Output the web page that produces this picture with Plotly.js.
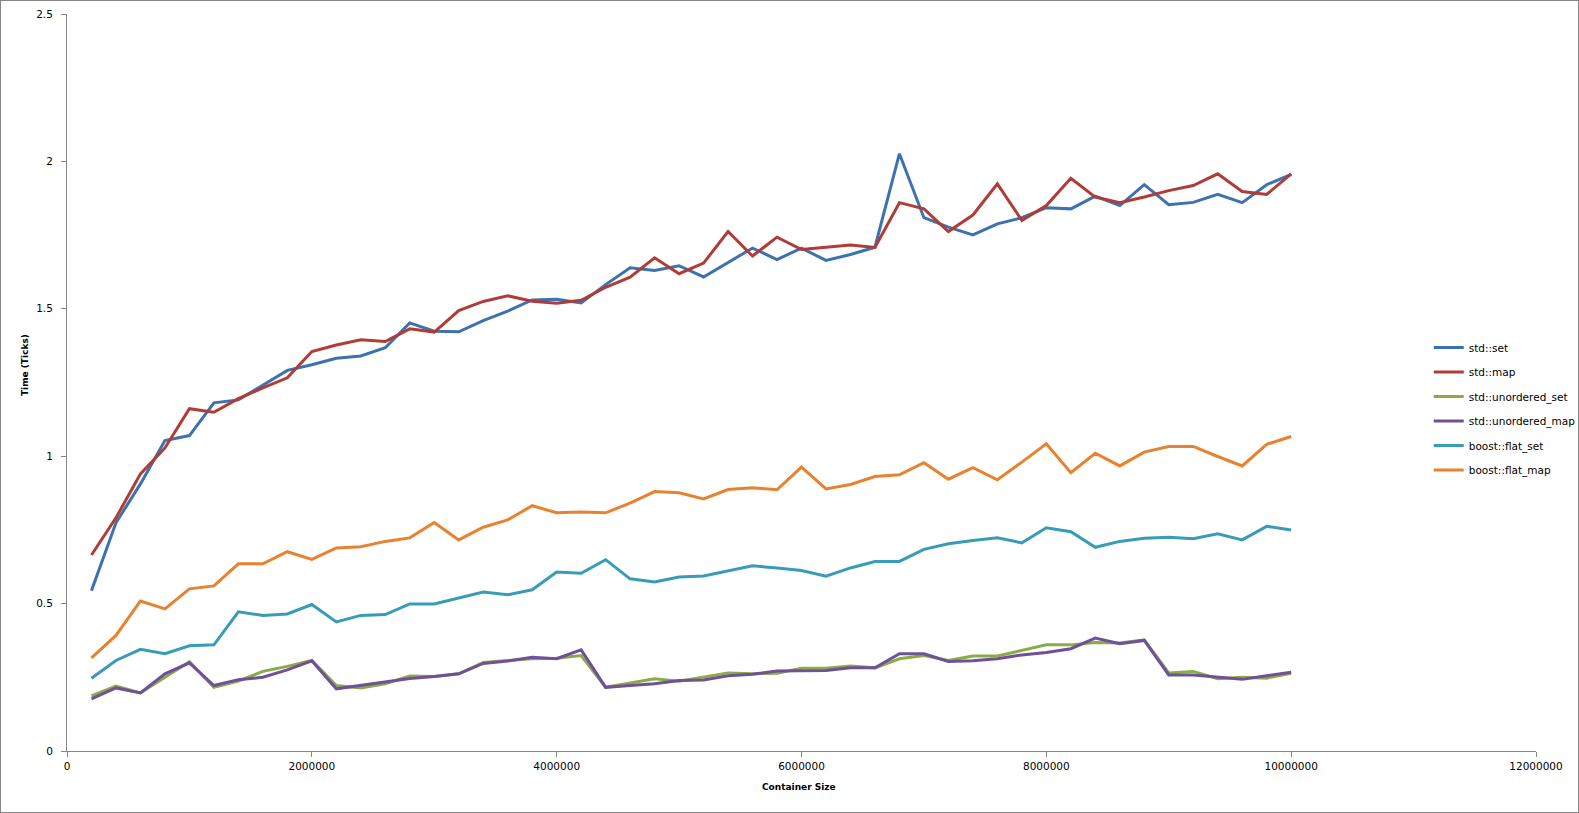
<!DOCTYPE html>
<html>
<head>
<meta charset="utf-8">
<script src="https://cdn.plot.ly/plotly-3.0.1.min.js"></script>
<style>
  html, body { margin: 0; padding: 0; background: #ffffff; }
  #chart { width: 1579px; height: 813px; box-sizing: border-box; border: 1px solid #868686; }
</style>
</head>
<body>
<div id="chart"></div>
<script>
// Container sizes (x values)
const containerSize = [
  200000, 400000, 600000, 800000, 1000000, 1200000, 1400000, 1600000, 1800000, 2000000,
  2200000, 2400000, 2600000, 2800000, 3000000, 3200000, 3400000, 3600000, 3800000, 4000000,
  4200000, 4400000, 4600000, 4800000, 5000000, 5200000, 5400000, 5600000, 5800000, 6000000,
  6200000, 6400000, 6600000, 6800000, 7000000, 7200000, 7400000, 7600000, 7800000, 8000000,
  8200000, 8400000, 8600000, 8800000, 9000000, 9200000, 9400000, 9600000, 9800000, 10000000
];

const stdSet = [
  0.544, 0.774, 0.906, 1.053, 1.070, 1.181, 1.191, 1.240, 1.291, 1.310,
  1.332, 1.340, 1.368, 1.452, 1.424, 1.422, 1.460, 1.492, 1.530, 1.532,
  1.520, 1.582, 1.639, 1.630, 1.646, 1.608, 1.656, 1.706, 1.667, 1.706,
  1.664, 1.684, 1.709, 2.026, 1.809, 1.777, 1.751, 1.788, 1.809, 1.843,
  1.839, 1.882, 1.850, 1.921, 1.853, 1.861, 1.888, 1.860, 1.921, 1.956
];

const stdMap = [
  0.665, 0.791, 0.940, 1.028, 1.161, 1.149, 1.195, 1.232, 1.266, 1.355,
  1.377, 1.395, 1.389, 1.432, 1.421, 1.494, 1.525, 1.544, 1.526, 1.519,
  1.529, 1.573, 1.607, 1.673, 1.619, 1.655, 1.762, 1.679, 1.743, 1.701,
  1.709, 1.716, 1.708, 1.860, 1.839, 1.762, 1.818, 1.924, 1.800, 1.850,
  1.943, 1.879, 1.860, 1.879, 1.901, 1.918, 1.958, 1.898, 1.888, 1.958
];

const stdUnorderedSet = [
  0.187, 0.220, 0.197, 0.250, 0.303, 0.216, 0.237, 0.270, 0.287, 0.307,
  0.222, 0.214, 0.228, 0.254, 0.253, 0.262, 0.300, 0.307, 0.313, 0.315,
  0.324, 0.216, 0.230, 0.245, 0.237, 0.250, 0.265, 0.262, 0.264, 0.281,
  0.281, 0.288, 0.282, 0.313, 0.324, 0.307, 0.322, 0.322, 0.341, 0.360,
  0.360, 0.368, 0.366, 0.377, 0.265, 0.270, 0.245, 0.250, 0.247, 0.264
];

const stdUnorderedMap = [
  0.177, 0.214, 0.197, 0.262, 0.299, 0.222, 0.242, 0.250, 0.275, 0.306,
  0.211, 0.222, 0.235, 0.246, 0.253, 0.262, 0.297, 0.305, 0.318, 0.313,
  0.343, 0.216, 0.222, 0.228, 0.239, 0.241, 0.255, 0.260, 0.271, 0.271,
  0.273, 0.282, 0.282, 0.330, 0.330, 0.304, 0.306, 0.313, 0.326, 0.334,
  0.347, 0.383, 0.364, 0.375, 0.258, 0.258, 0.250, 0.243, 0.255, 0.267
];

const boostFlatSet = [
  0.247, 0.307, 0.345, 0.330, 0.357, 0.360, 0.472, 0.460, 0.465, 0.497,
  0.438, 0.460, 0.463, 0.499, 0.499, 0.520, 0.539, 0.530, 0.547, 0.607,
  0.603, 0.649, 0.584, 0.573, 0.590, 0.594, 0.611, 0.628, 0.621, 0.612,
  0.593, 0.621, 0.643, 0.643, 0.684, 0.703, 0.714, 0.723, 0.706, 0.757,
  0.744, 0.691, 0.711, 0.722, 0.725, 0.720, 0.737, 0.716, 0.762, 0.750
];

const boostFlatMap = [
  0.316, 0.392, 0.509, 0.482, 0.550, 0.560, 0.635, 0.635, 0.676, 0.650,
  0.689, 0.693, 0.711, 0.723, 0.775, 0.716, 0.759, 0.784, 0.832, 0.808,
  0.811, 0.808, 0.841, 0.880, 0.876, 0.855, 0.887, 0.893, 0.886, 0.963,
  0.889, 0.904, 0.931, 0.937, 0.978, 0.922, 0.961, 0.920, 0.980, 1.042,
  0.944, 1.010, 0.967, 1.014, 1.033, 1.033, 0.999, 0.967, 1.040, 1.067
];

const seriesNames = ["std::set", "std::map", "std::unordered_set", "std::unordered_map", "boost::flat_set", "boost::flat_map"];
const seriesValues = [stdSet, stdMap, stdUnorderedSet, stdUnorderedMap, boostFlatSet, boostFlatMap];
const seriesColors = ["#3d71b0", "#b03c38", "#8aac46", "#70509a", "#389cb6", "#e8822f"];

const xTickVals = [0, 2000000, 4000000, 6000000, 8000000, 10000000, 12000000];
const xTickText = ["0", "2000000", "4000000", "6000000", "8000000", "10000000", "12000000"];

const traces = seriesNames.map((name, i) => ({
  type: "scatter",
  mode: "lines",
  name: name,
  legendgroup: "g" + i,
  x: containerSize,
  y: seriesValues[i],
  line: { color: seriesColors[i], width: 3 },
  hoverinfo: "x+y+name"
}));

const tickFont = { family: "DejaVu Sans, Verdana, sans-serif", size: 10.5, color: "#000000" };
const axisColor = "#868686";

const layout = {
  width: 1577,
  height: 811,
  margin: { l: 66, r: 42, t: 13, b: 61, pad: 0, autoexpand: false },
  paper_bgcolor: "#ffffff",
  plot_bgcolor: "#ffffff",
  showlegend: true,
  legend: {
    x: 0.927,
    xanchor: "left",
    y: 0.567,
    yanchor: "top",
    font: { family: "DejaVu Sans, Verdana, sans-serif", size: 10.5, color: "#000000" },
    tracegroupgap: 5.5,
    bgcolor: "rgba(0,0,0,0)",
    borderwidth: 0
  },
  xaxis: {
    range: [0, 12000000],
    tickmode: "array",
    tickvals: xTickVals,
    ticktext: xTickText,
    showgrid: false,
    zeroline: false,
    showline: true,
    linecolor: axisColor,
    linewidth: 1,
    ticks: "outside",
    ticklen: 5,
    tickcolor: axisColor,
    tickfont: tickFont,
    automargin: false,
    fixedrange: true
  },
  yaxis: {
    range: [0, 2.5],
    tickmode: "linear",
    tick0: 0,
    dtick: 0.5,
    showgrid: false,
    zeroline: false,
    showline: true,
    linecolor: axisColor,
    linewidth: 1,
    ticks: "outside",
    ticklen: 5,
    tickcolor: axisColor,
    tickfont: tickFont,
    ticklabelstandoff: 6,
    automargin: false,
    fixedrange: true
  },
  annotations: [
    {
      text: "<b>Container Size</b>",
      xref: "paper", yref: "paper",
      x: 0.498, y: -0.049,
      xanchor: "center", yanchor: "middle",
      showarrow: false,
      font: { family: "DejaVu Sans, Verdana, sans-serif", size: 9, color: "#000000" }
    },
    {
      text: "<b>Time (Ticks)</b>",
      xref: "paper", yref: "paper",
      x: -0.0284, y: 0.524,
      xanchor: "center", yanchor: "middle",
      textangle: -90,
      showarrow: false,
      font: { family: "DejaVu Sans, Verdana, sans-serif", size: 9, color: "#000000" }
    }
  ]
};

Plotly.newPlot("chart", traces, layout, { displayModeBar: false, staticPlot: true });
</script>
</body>
</html>
